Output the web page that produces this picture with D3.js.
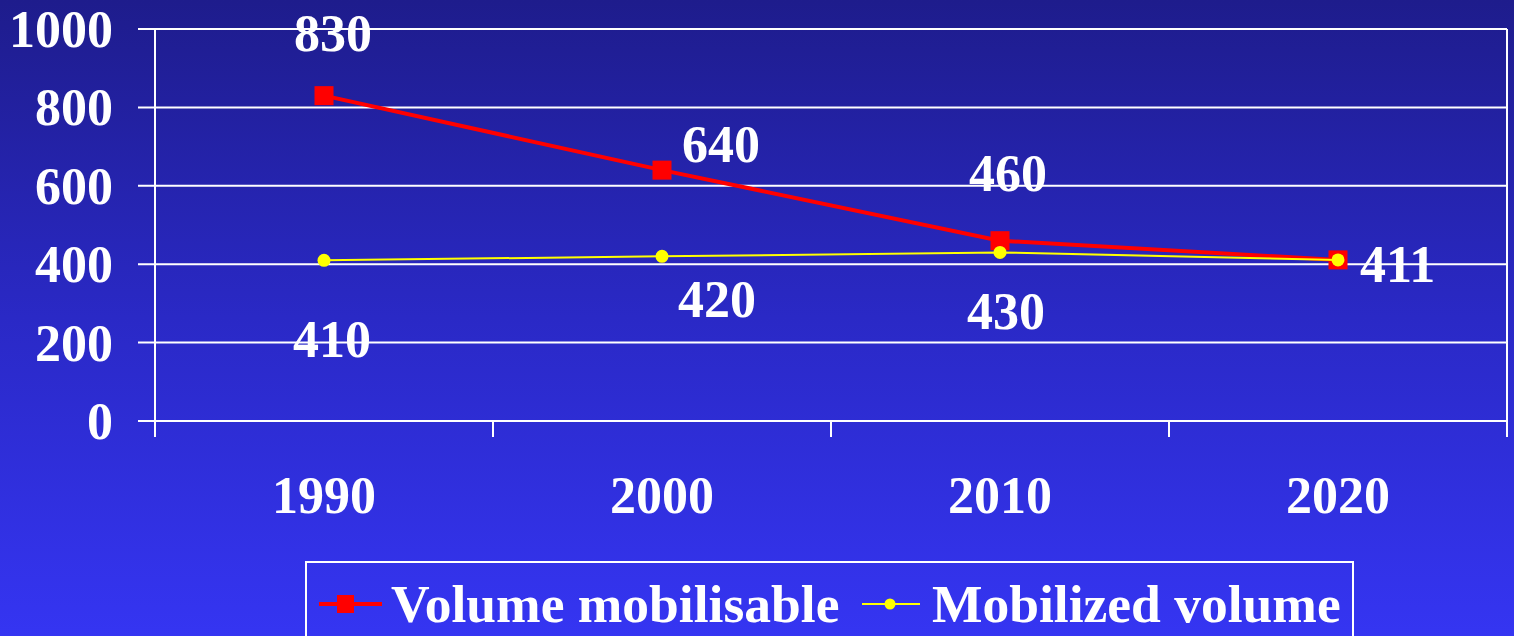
<!DOCTYPE html>
<html><head><meta charset="utf-8">
<script src="https://cdn.jsdelivr.net/npm/d3@7"></script>
<style>html,body{margin:0;padding:0;background:#2a28c0;overflow:hidden}svg{display:block}text{font-family:"Liberation Serif","Times New Roman",serif;font-weight:bold;fill:#fff}</style>
</head><body>
<svg id="c" width="1514" height="636"></svg>
<script>
const categories = ["1990", "2000", "2010", "2020"];
const seriesNames = ["Volume mobilisable", "Mobilized volume"];
const mobilisable = [830, 640, 460, 411];
const mobilized = [410, 420, 430, 411];
const yTicks = [0, 200, 400, 600, 800, 1000];
const mobilisableLabels = ["830", "640", "460", "411"];
const mobilizedLabels = ["410", "420", "430", ""];

// label placement (layout only): [dx, dy, anchor]
const redLabelPos = [[9, -45, "middle"], [20, -8, "start"], [8, -50, "middle"], [22, 22, "start"]];
const yelLabelPos = [[8, 97, "middle"], [16, 61, "start"], [6, 77, "middle"], [0, 0, "middle"]];

(function(){
const W = 1514, H = 636;
const svg = d3.select("#c");
const defs = svg.append("defs");
const grad = defs.append("linearGradient").attr("id","bg").attr("x1",0).attr("y1",0).attr("x2",0).attr("y2",1);
grad.append("stop").attr("offset","0%").attr("stop-color","#1e1c8c");
grad.append("stop").attr("offset","50%").attr("stop-color","#2a29c6");
grad.append("stop").attr("offset","100%").attr("stop-color","#3535f2");
svg.append("rect").attr("width",W).attr("height",H).attr("fill","url(#bg)");

const pl = 155, pr = 1507, pt = 29, pb = 421;
const x = d3.scaleBand().domain(categories).range([pl, pr]).padding(0);
const y = d3.scaleLinear().domain([0, 1000]).range([pb, pt]);
const cx = d => x(d) + x.bandwidth()/2;

svg.append("g").selectAll("line").data(yTicks).join("line")
  .attr("x1", pl - 17).attr("x2", pr)
  .attr("y1", d => y(d)).attr("y2", d => y(d))
  .attr("stroke", "#fff").attr("stroke-width", 2);

svg.append("line").attr("x1", pl).attr("x2", pl).attr("y1", pt).attr("y2", pb + 16)
  .attr("stroke","#fff").attr("stroke-width",2);
svg.append("line").attr("x1", pr).attr("x2", pr).attr("y1", pt).attr("y2", pb + 16)
  .attr("stroke","#fff").attr("stroke-width",2);
const tickXs = categories.map(c => x(c)).concat([pr]);
svg.append("g").selectAll("line").data(tickXs).join("line")
  .attr("x1", d => d).attr("x2", d => d).attr("y1", pb).attr("y2", pb + 16)
  .attr("stroke","#fff").attr("stroke-width",2);

svg.append("g").selectAll("text").data(yTicks).join("text")
  .attr("x", 113).attr("y", d => y(d) + 18).attr("text-anchor","end")
  .attr("font-size", 52).text(d => d);

svg.append("g").selectAll("text").data(categories).join("text")
  .attr("x", d => cx(d)).attr("y", 513).attr("text-anchor","middle")
  .attr("font-size", 52).text(d => d);

const redData = categories.map((c,i) => ({c, v: mobilisable[i], i}));
const yelData = categories.map((c,i) => ({c, v: mobilized[i], i}));
const line = d3.line().x(d => cx(d.c)).y(d => y(d.v));
svg.append("path").datum(redData).attr("d", line).attr("fill","none").attr("stroke","#ff0000").attr("stroke-width",4);
svg.append("g").selectAll("rect").data(redData).join("rect")
  .attr("x", d => cx(d.c) - 9.5).attr("y", d => y(d.v) - 9.5).attr("width",19).attr("height",19).attr("fill","#ff0000");
svg.append("path").datum(yelData).attr("d", line).attr("fill","none").attr("stroke","#ffff00").attr("stroke-width",2);
svg.append("g").selectAll("circle").data(yelData).join("circle")
  .attr("cx", d => cx(d.c)).attr("cy", d => y(d.v)).attr("r",6.5).attr("fill","#ffff00");

svg.append("g").selectAll("text").data(redData).join("text")
  .attr("x", d => cx(d.c) + redLabelPos[d.i][0]).attr("y", d => y(d.v) + redLabelPos[d.i][1])
  .attr("text-anchor", d => redLabelPos[d.i][2]).attr("font-size",52).text(d => mobilisableLabels[d.i]);
svg.append("g").selectAll("text").data(yelData).join("text")
  .attr("x", d => cx(d.c) + yelLabelPos[d.i][0]).attr("y", d => y(d.v) + yelLabelPos[d.i][1])
  .attr("text-anchor", d => yelLabelPos[d.i][2]).attr("font-size",52).text(d => mobilizedLabels[d.i]);

const lg = svg.append("g");
lg.append("rect").attr("x",306).attr("y",562).attr("width",1047).attr("height",90)
  .attr("fill","none").attr("stroke","#fff").attr("stroke-width",2);
lg.append("line").attr("x1",319).attr("x2",382).attr("y1",604).attr("y2",604).attr("stroke","#ff0000").attr("stroke-width",4);
lg.append("rect").attr("x",337).attr("y",595).attr("width",17).attr("height",18).attr("fill","#ff0000");
lg.append("text").attr("x",391).attr("y",622).attr("font-size",53.5).text(seriesNames[0]);
lg.append("line").attr("x1",862).attr("x2",920).attr("y1",604).attr("y2",604).attr("stroke","#ffff00").attr("stroke-width",2);
lg.append("circle").attr("cx",890).attr("cy",604).attr("r",5.5).attr("fill","#ffff00");
lg.append("text").attr("x",932).attr("y",622).attr("font-size",53.5).text(seriesNames[1]);
})();
</script>
</body></html>
